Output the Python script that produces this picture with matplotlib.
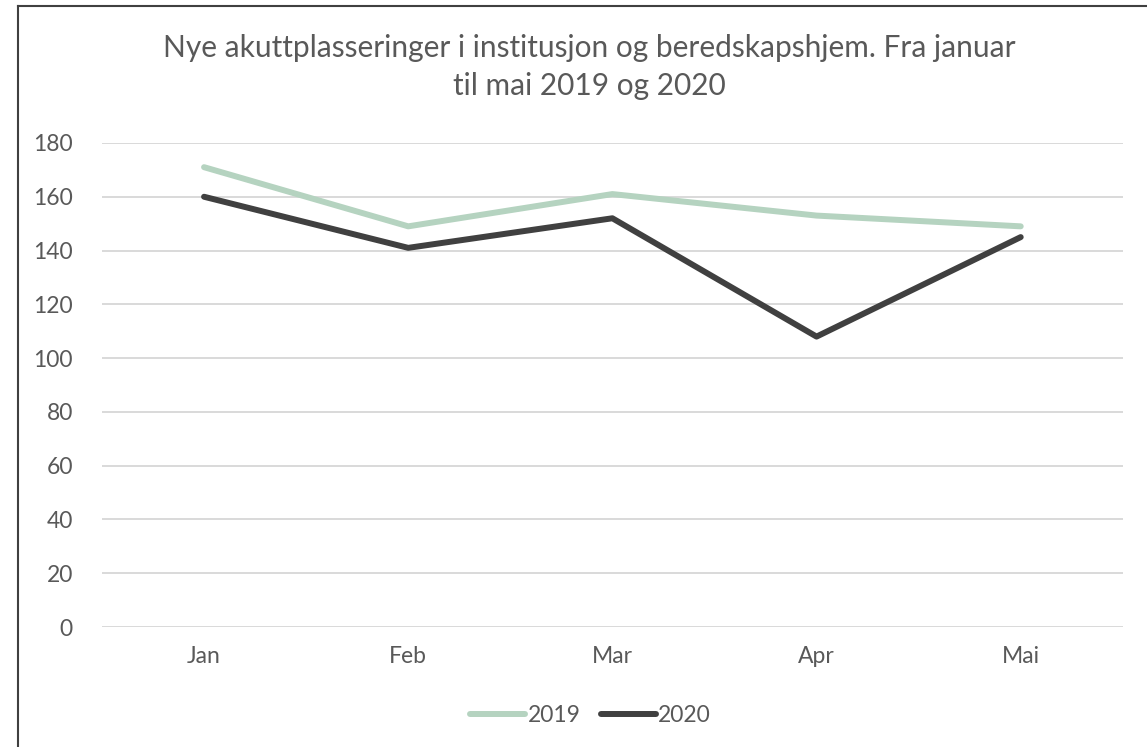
import matplotlib
matplotlib.use("Agg")
import matplotlib.pyplot as plt
from matplotlib.lines import Line2D

months = ["Jan", "Feb", "Mar", "Apr", "Mai"]
values_2019 = [171, 149, 161, 153, 149]
values_2020 = [160, 141, 152, 108, 145]
yticks = list(range(0, 181, 20))

plt.rcParams["font.family"] = ["Lato", "DejaVu Sans"]
text_color = "#595959"

fig = plt.figure(figsize=(11.47, 7.47), dpi=100)
ax = fig.add_axes([0.0889, 0.1606, 0.890, 0.648])

x = range(len(months))
ax.plot(x, values_2019, color="#b5d3c0", lw=4.3, solid_capstyle="round",
        solid_joinstyle="round", label="2019", zorder=3)
ax.plot(x, values_2020, color="#404040", lw=4.3, solid_capstyle="round",
        solid_joinstyle="round", label="2020", zorder=3)

ax.set_xlim(-0.5, len(months) - 0.5)
ax.set_ylim(0, 180)
ax.set_yticks(yticks)
ax.set_xticks(list(x))
ax.set_xticklabels(months)
ax.yaxis.grid(True, color="#d9d9d9", lw=1.4)
ax.set_axisbelow(True)
for s in ax.spines.values():
    s.set_visible(False)
ax.tick_params(length=0, labelsize=16.5, labelcolor=text_color)
ax.tick_params(axis="x", pad=14)
ax.tick_params(axis="y", pad=21)

fig.text(0.514, 0.910, "Nye akuttplasseringer i institusjon og beredskapshjem. Fra januar\ntil mai 2019 og 2020",
         ha="center", va="center", fontsize=21.5, color=text_color, linespacing=1.45)

leg = fig.legend(loc="center", bbox_to_anchor=(0.515, 0.042), ncol=2, frameon=False,
                 fontsize=16.5, handlelength=2.4, handletextpad=0.1, columnspacing=0.9)
for t in leg.get_texts():
    t.set_color(text_color)

# outer frame like the Excel chart border
fig.add_artist(Line2D([0.0155, 0.0155], [0, 0.9925], transform=fig.transFigure, color="#404040", lw=1.5))
fig.add_artist(Line2D([0.0155, 1], [0.9925, 0.9925], transform=fig.transFigure, color="#404040", lw=1.5))

fig.savefig("out.png", dpi=100)
plt.close(fig)
